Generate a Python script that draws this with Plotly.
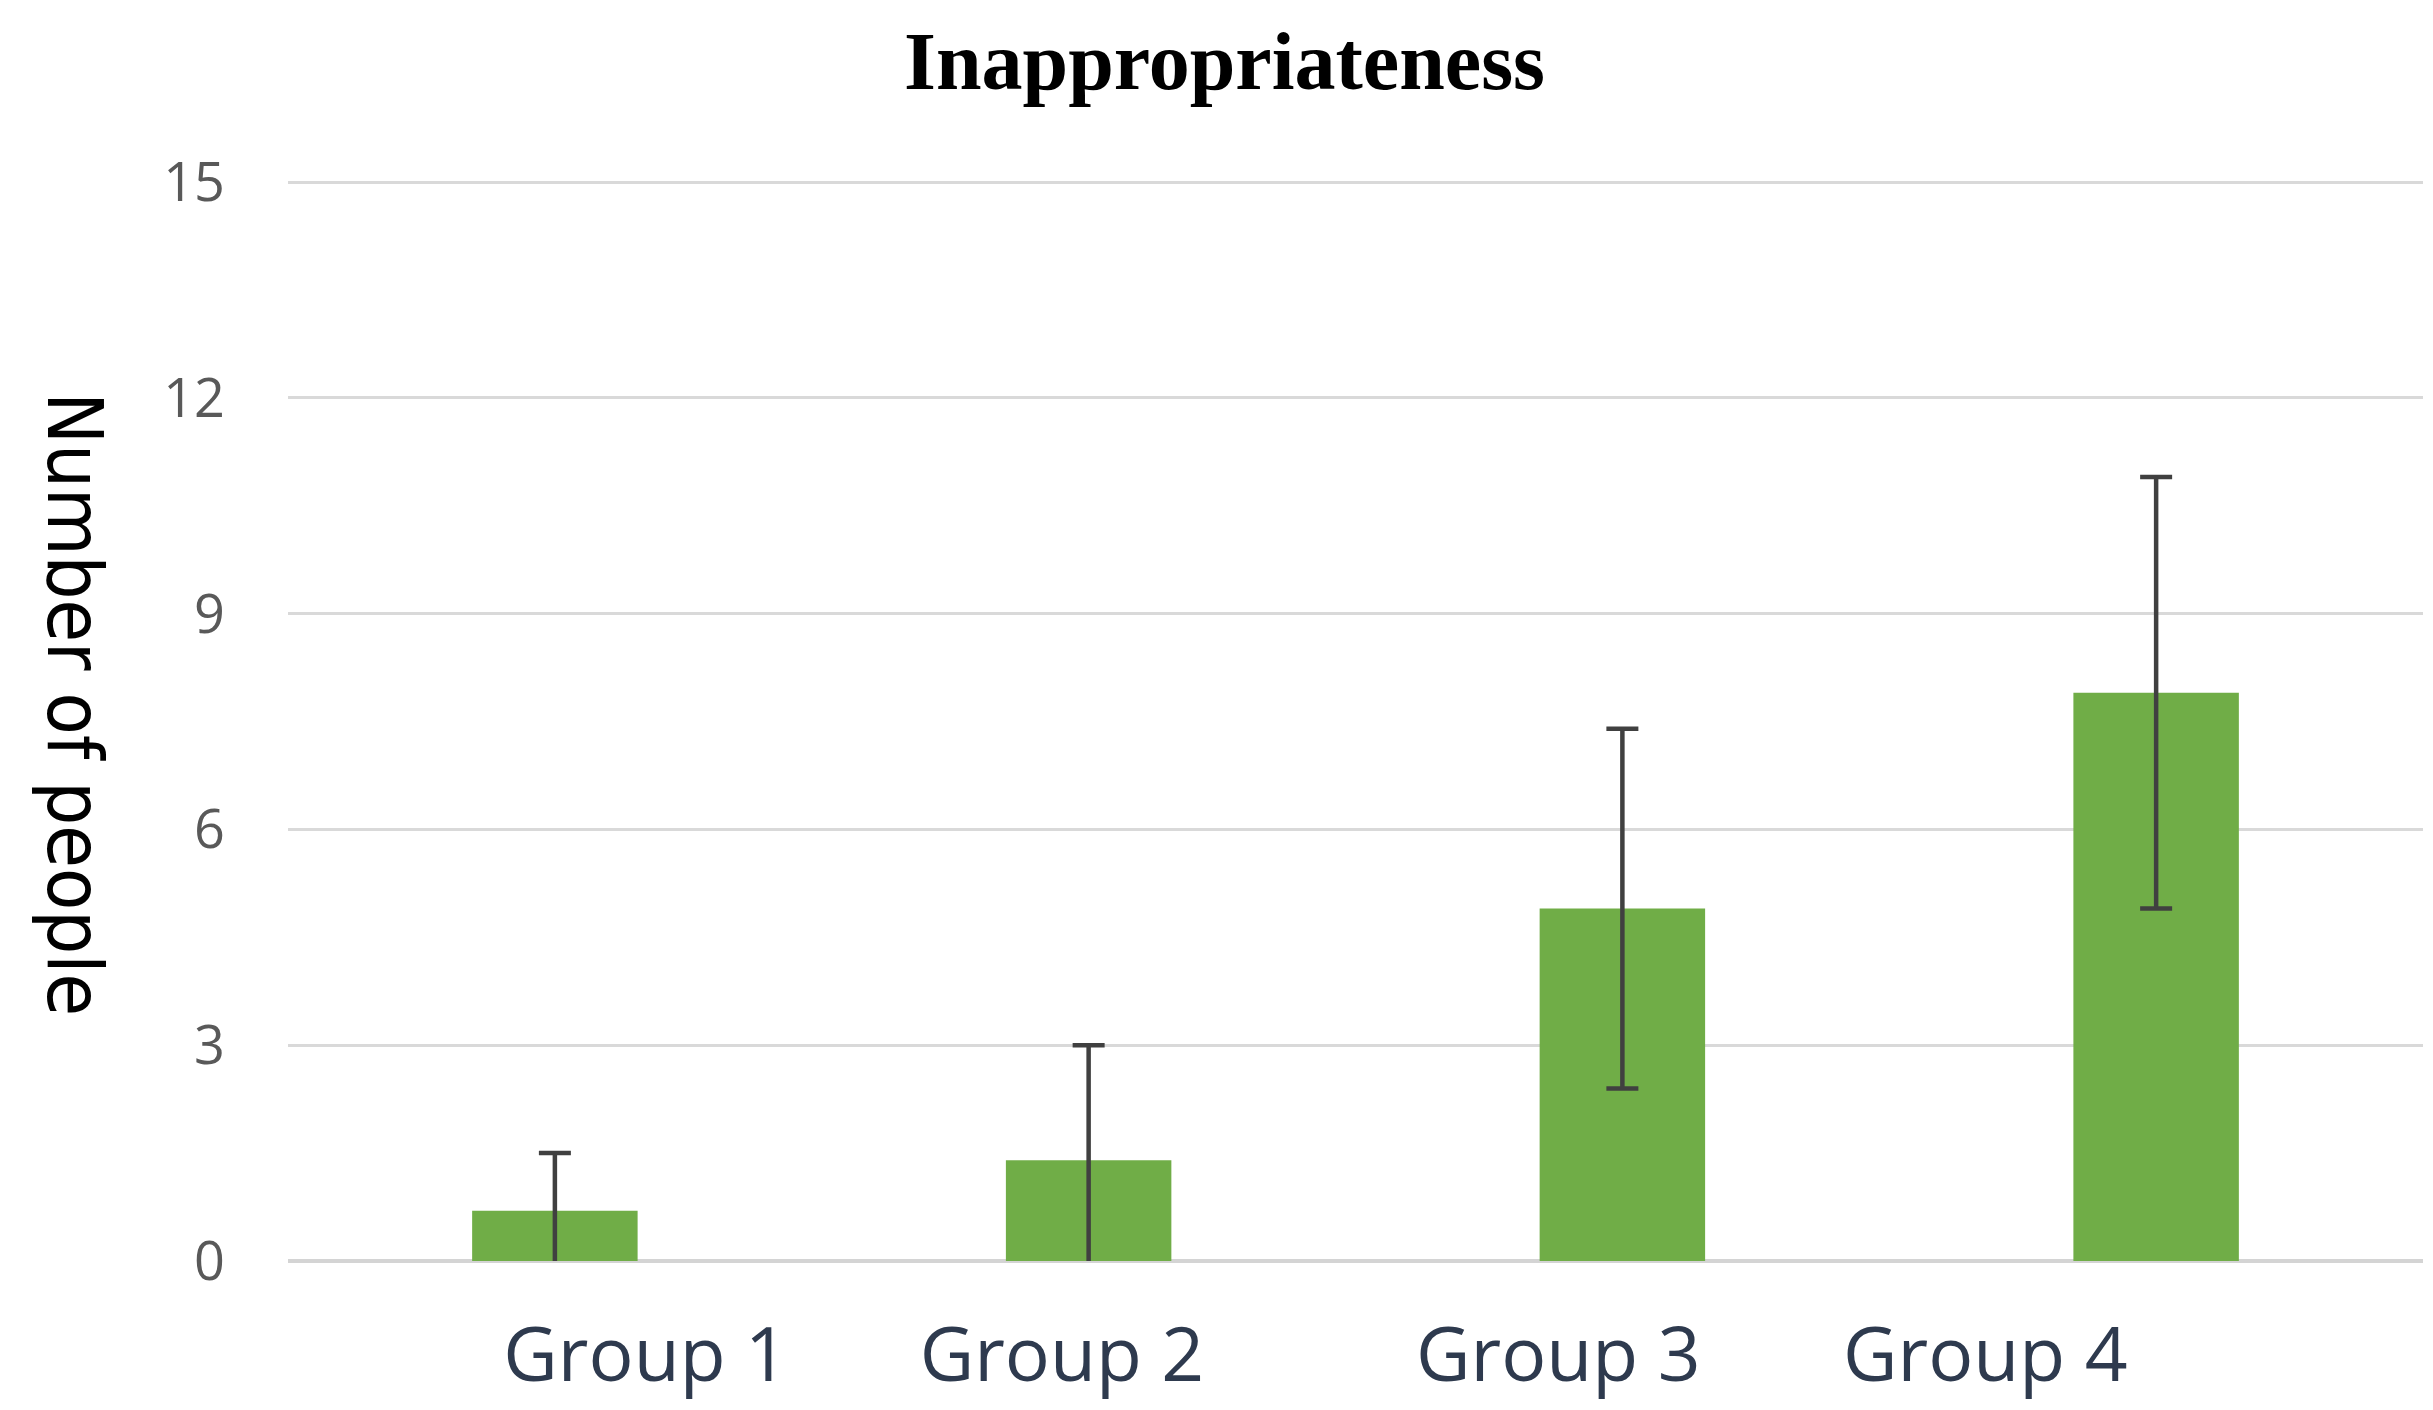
import plotly.graph_objects as go

categories = ["Group 1", "Group 2", "Group 3", "Group 4"]
values = [0.7, 1.4, 4.9, 7.9]
errors = [0.8, 1.6, 2.5, 3.0]
y_ticks = [0, 3, 6, 9, 12, 15]
label_offsets = [0.17, -0.05, -0.12, -0.32]  # label shift from bar centre (category units)

xpos = list(range(len(categories)))
label_pos = [i + d for i, d in zip(xpos, label_offsets)]

fig = go.Figure()
fig.add_trace(go.Bar(
    x=xpos, y=values, width=0.31,
    marker=dict(color="#70AD47", line=dict(width=0)),
    error_y=dict(type="data", array=errors, visible=True,
                 color="#404040", thickness=4.5, width=16),
    xaxis="x", yaxis="y", showlegend=False,
))
# invisible trace to activate labels axis
fig.add_trace(go.Scatter(x=label_pos, y=[0]*len(label_pos), mode="markers",
                         marker=dict(opacity=0), xaxis="x2", yaxis="y",
                         showlegend=False, hoverinfo="skip"))

fig.update_layout(
    width=2433, height=1410,
    paper_bgcolor="white", plot_bgcolor="white",
    margin=dict(l=280, r=18, t=172, b=157),
    title=dict(text="<b>Inappropriateness</b>", x=0.5, xanchor="center",
               y=1-52/1410, yanchor="middle",
               font=dict(family="Liberation Serif", size=82, color="black")),
    xaxis=dict(range=[-0.5, 3.5], showticklabels=False, showgrid=False,
               zeroline=False, showline=False, ticks=""),
    xaxis2=dict(range=[-0.5, 3.5], overlaying="x", side="bottom",
                tickmode="array", tickvals=label_pos, ticktext=categories,
                showgrid=False, zeroline=False, showline=False, ticks="",
                ticklabelstandoff=44,
                tickfont=dict(family="Open Sans", size=75, color="#2E3A4E")),
    yaxis=dict(range=[0, 15.03], tickmode="array", tickvals=y_ticks,
               showgrid=True, gridcolor="#D9D9D9", gridwidth=3,
               zeroline=True, zerolinecolor="#D4D4D4", zerolinewidth=4,
               showline=False, ticks="", ticklabelstandoff=62,
               tickfont=dict(family="Open Sans", size=54, color="#595959")),
    annotations=[dict(text="Number of people", xref="paper", yref="paper",
                      x=0, y=0.515, xanchor="center", yanchor="middle",
                      xshift=-213, textangle=90, showarrow=False,
                      font=dict(family="DejaVu Sans Condensed, Liberation Sans",
                                size=77, color="black"))],
)

fig.write_html("out.html")
